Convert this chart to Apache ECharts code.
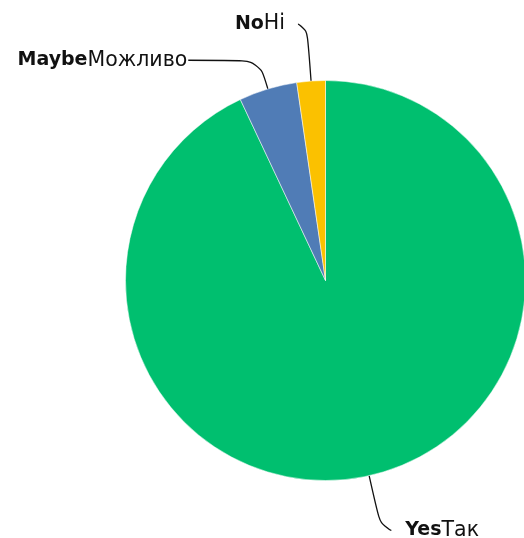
<!DOCTYPE html>
<html>
<head>
<meta charset="utf-8">
<script src="https://cdn.jsdelivr.net/npm/echarts@6/dist/echarts.min.js"></script>
<style>html,body{margin:0;padding:0;background:#fff;}#c{width:524px;height:538px;}</style>
</head>
<body>
<div id="c"></div>
<script>
const namesEn = ['Yes', 'Maybe', 'No'];
const namesUk = ['Так', 'Можливо', 'Ні'];
const values = [93.0, 4.7, 2.3];
const colors = ['#00bf6f', '#507cb6', '#fbc100'];

// label line geometry per slice (style only)
const lineLen = [56, 30, 57];
const lineLen2 = [10, 71, 9];
const labelDist = [14, 1, 13];
const lineSmooth = [0.9, 0.35, 0.9];

const chart = echarts.init(document.getElementById('c'), null, {renderer: 'canvas'});
const font = '"DejaVu Sans", sans-serif';
chart.setOption({
  animation: false,
  series: [{
    type: 'pie',
    center: [325.5, 280.5],
    radius: [0, 200],
    startAngle: 90,
    clockwise: true,
    avoidLabelOverlap: false,
    bleedMargin: 0,
    itemStyle: {borderColor: '#fff', borderWidth: 0.5},
    label: {
      show: true,
      position: 'outside',
      color: '#111',
      fontFamily: font,
      fontSize: 20,
      rich: {
        b: {fontWeight: 'bold', fontSize: 19, fontFamily: font, color: '#111'},
        n: {fontWeight: 'normal', fontSize: 20.5, fontFamily: font, color: '#111'}
      }
    },
    labelLine: {show: true, lineStyle: {color: '#111', width: 1.3}},
    data: values.map((v, i) => ({
      value: v,
      name: namesEn[i],
      itemStyle: {color: colors[i]},
      label: {
        formatter: '{b|' + namesEn[i] + '}{n|' + namesUk[i] + '}',
        distanceToLabelLine: labelDist[i]
      },
      labelLine: {length: lineLen[i], length2: lineLen2[i], smooth: lineSmooth[i]}
    }))
  }]
});
</script>
</body>
</html>
